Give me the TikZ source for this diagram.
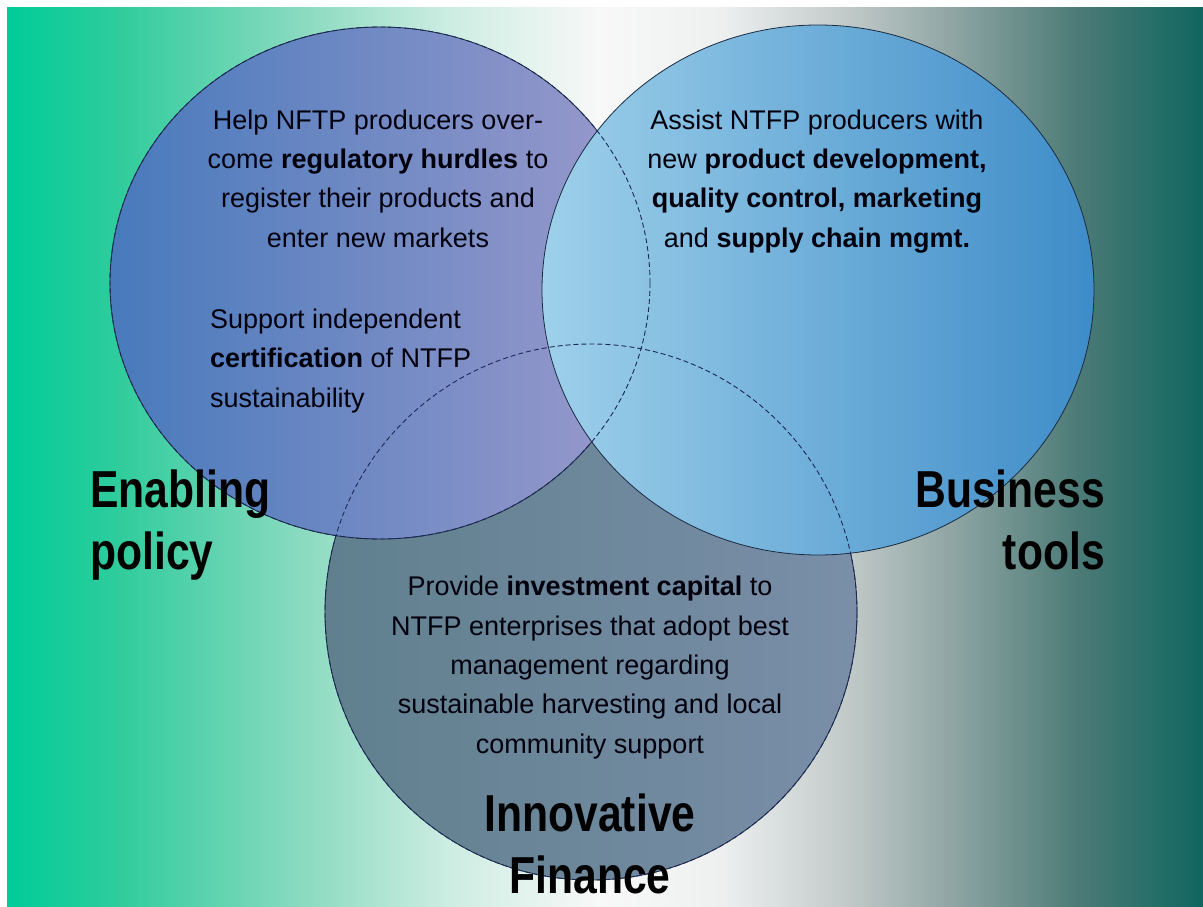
\documentclass[tikz,border=0pt]{standalone}
\usepackage{fontspec}
\setmainfont{Liberation Sans}
\newfontfamily\headfont[FakeStretch=0.82]{Liberation Sans}
\usetikzlibrary{positioning}

\definecolor{bgA}{HTML}{00CC99}
\definecolor{bgB}{HTML}{30CC9C}
\definecolor{bgC}{HTML}{8ADAC0}
\definecolor{bgD}{HTML}{CDEDE2}
\definecolor{bgE}{HTML}{F8F8F8}
\definecolor{bgF}{HTML}{EEF0F0}
\definecolor{bgG}{HTML}{C0C9C8}
\definecolor{bgH}{HTML}{90A6A4}
\definecolor{bgI}{HTML}{4A7A76}
\definecolor{bgJ}{HTML}{10665F}
\definecolor{rim}{HTML}{1A2A40}
\definecolor{hid}{HTML}{1C2858}

\pgfdeclarehorizontalshading{backdrop}{100bp}{color(0bp)=(bgA); color(25bp)=(bgA);
  color(29.7bp)=(bgB); color(37.3bp)=(bgC); color(43.5bp)=(bgD); color(49.8bp)=(bgE);
  color(54.8bp)=(bgF); color(60.2bp)=(bgG); color(64.4bp)=(bgH); color(69.9bp)=(bgI);
  color(75bp)=(bgJ); color(100bp)=(bgJ)}

\tikzset{
  bubble/.style={draw=rim, line width=0.8pt},
  hidden/.style={draw=hid, line width=0.9pt, dash pattern=on 5pt off 3pt},
  blurb/.style={inner sep=0pt, text=black!95!blue, font=\fontsize{27}{39.3}\selectfont},
  title/.style={inner sep=0pt, text=black, font=\headfont\bfseries\fontsize{52}{62}\selectfont}
}

\begin{document}
\begin{tikzpicture}[x=1pt, y=-1pt]
  \useasboundingbox (0,0) rectangle (1203,907);
  \fill[white] (0,0) rectangle (1203,907);
  \shade[shading=backdrop] (7,8) rectangle (1203,907);

  % the three circles, bottom one first
  \coordinate (finance) at (591,612);
  \coordinate (policy) at (380,283);
  \coordinate (tools) at (818,290);
  \shade[bubble, left color={rgb,255:red,96;green,128;blue,142}, right color={rgb,255:red,122;green,142;blue,168}] (finance) ellipse (266pt and 268pt);
  \shade[bubble, left color={rgb,255:red,72;green,122;blue,188}, right color={rgb,255:red,156;green,154;blue,204}] (policy) ellipse (270pt and 256pt);
  \shade[bubble, left color={rgb,255:red,158;green,208;blue,234}, right color={rgb,255:red,62;green,140;blue,200}] (tools) ellipse (276pt and 265pt);

  % edges seen through the upper circles
  \draw[hidden] (finance) ellipse (266pt and 268pt);
  \draw[hidden] (policy) ellipse (270pt and 256pt);

  % base anchor sits on the last line
  \node[blurb, align=center, anchor=base] (hurdles) at (378,247)
    {Help NFTP producers over-\\come \textbf{regulatory hurdles} to\\register their products and\\enter new markets};
  \node[blurb, align=left, anchor=base west] (certify) at (210,407)
    {Support independent\\\textbf{certification} of NTFP\\sustainability};
  \node[blurb, align=center, anchor=base] (assist) at (817,247)
    {Assist NTFP producers with\\new \textbf{product development,}\\\textbf{quality control, marketing}\\and \textbf{supply chain mgmt.}};
  \node[blurb, align=center, anchor=base] (capital) at (590,753)
    {Provide \textbf{investment capital} to\\NTFP enterprises that adopt best\\management regarding\\sustainable harvesting and local\\community support};

  \node[title, align=left, anchor=base west] (enabling) at (90,569) {Enabling\\policy};
  \node[title, align=right, anchor=base east] (business) at (1105,569) {Business\\tools};
  \node[title, align=center, anchor=base] (innovative) at (590,893) {Innovative\\Finance};
\end{tikzpicture}
\end{document}
